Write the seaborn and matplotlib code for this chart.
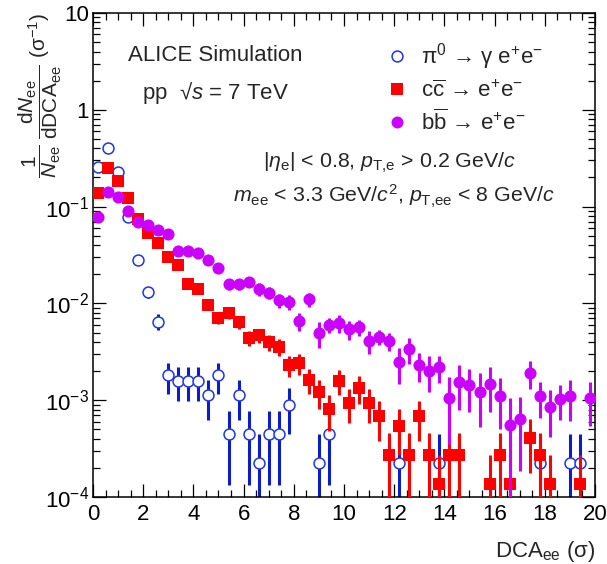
import numpy as np
import matplotlib
matplotlib.use("Agg")
import matplotlib.pyplot as plt
import matplotlib.ticker as mticker
from matplotlib.lines import Line2D
import seaborn as sns

# pi0 -> gamma e+e- (open blue circles)
pi0_x = [0.2, 0.6, 1.0, 1.4, 1.8, 2.2, 2.6, 3.0, 3.4, 3.8, 4.2, 4.6, 5.0, 5.4, 5.8,
         6.2, 6.6, 7.0, 7.4, 7.8, 9.0, 9.4, 12.2, 13.8, 17.8, 19.0, 19.4]
pi0_y = [0.256, 0.40, 0.226, 0.0776, 0.028, 0.013, 0.0065, 0.00181, 0.00158, 0.00158,
         0.00158, 0.00113, 0.00181, 0.000452, 0.00113, 0.000452, 0.000226, 0.000452,
         0.000452, 0.0009, 0.000226, 0.000452, 0.000226, 0.000226, 0.000226, 0.000226,
         0.000226]
pi0_err = [0.0076, 0.0095, 0.0071, 0.0042, 0.0025, 0.0017, 0.0012, 0.00064, 0.0006,
           0.0006, 0.0006, 0.000505, 0.00064, 0.00032, 0.000505, 0.00032, 0.000226,
           0.00032, 0.00032, 0.00045, 0.000226, 0.00032, 0.000226, 0.000226, 0.000226,
           0.000226, 0.000226]

# c cbar -> e+e- (red squares)
cc_x = [0.2, 0.6, 1.0, 1.4, 1.8, 2.2, 2.6, 3.0, 3.4, 3.8, 4.2, 4.6, 5.0, 5.4, 5.8,
        6.2, 6.6, 7.0, 7.4, 7.8, 8.2, 8.6, 9.0, 9.4, 9.8, 10.2, 10.6, 11.0, 11.4, 11.8,
        12.2, 12.6, 13.0, 13.4, 13.8, 14.2, 14.6, 15.8, 16.2, 16.6, 17.4, 17.8, 18.2, 19.4]
cc_y = [0.139, 0.252, 0.185, 0.123, 0.075, 0.0534, 0.042, 0.0304, 0.0249, 0.0159,
        0.0141, 0.0096, 0.00706, 0.0079, 0.00638, 0.00442, 0.00468, 0.00399, 0.00357,
        0.00231, 0.0024, 0.00162, 0.00122, 0.00081, 0.00159, 0.00094, 0.00135, 0.00094,
        0.00068, 0.00027, 0.00054, 0.00027, 0.00068, 0.00027, 0.000135, 0.00027, 0.00027,
        0.000135, 0.00027, 0.000135, 0.00041, 0.00027, 0.000135, 0.000135]
cc_err = [0.0043, 0.0058, 0.005, 0.0041, 0.0032, 0.0027, 0.0024, 0.002, 0.0018, 0.00147,
          0.00138, 0.00114, 0.00098, 0.00103, 0.00093, 0.00077, 0.00079, 0.00073, 0.00069,
          0.00056, 0.00057, 0.00047, 0.00041, 0.00033, 0.00046, 0.00036, 0.00043, 0.00036,
          0.0003, 0.00019, 0.00027, 0.00019, 0.0003, 0.00019, 0.000135, 0.00019, 0.00019,
          0.000135, 0.00019, 0.000135, 0.000235, 0.00019, 0.000135, 0.000135]

# b bbar -> e+e- (magenta circles)
bb_x = [0.2, 0.6, 1.0, 1.4, 1.8, 2.2, 2.6, 3.0, 3.4, 3.8, 4.2, 4.6, 5.0, 5.4, 5.8,
        6.2, 6.6, 7.0, 7.4, 7.8, 8.2, 8.6, 9.0, 9.4, 9.8, 10.2, 10.6, 11.0, 11.4, 11.8,
        12.2, 12.6, 13.0, 13.4, 13.8, 14.2, 14.6, 15.0, 15.4, 15.8, 16.2, 16.6, 17.0,
        17.4, 17.8, 18.2, 18.6, 19.0, 19.8]
bb_y = [0.0787, 0.1426, 0.1265, 0.0908, 0.0693, 0.0646, 0.0573, 0.0517, 0.035, 0.035,
        0.0329, 0.028, 0.0234, 0.0157, 0.0157, 0.0168, 0.014, 0.0129, 0.0108, 0.0104,
        0.0066, 0.011, 0.0049, 0.006, 0.0062, 0.0054, 0.0057, 0.0041, 0.0045, 0.0041,
        0.00246, 0.00336, 0.00231, 0.00202, 0.00219, 0.00105, 0.00155, 0.00144, 0.00122,
        0.00147, 0.0011, 0.000554, 0.000635, 0.00192, 0.0011, 0.000845, 0.00103, 0.00111,
        0.00105]
bb_err = [0.003, 0.005, 0.0045, 0.004, 0.0035, 0.0033, 0.0031, 0.003, 0.0025, 0.0025,
          0.0024, 0.0022, 0.002, 0.002, 0.002, 0.0021, 0.0021, 0.0018, 0.0018, 0.0018,
          0.00145, 0.0019, 0.00147, 0.001, 0.0013, 0.0012, 0.0011, 0.0011, 0.00075, 0.00085,
          0.001, 0.001, 0.00078, 0.00081, 0.0007, 0.0007, 0.00076, 0.00068, 0.00069,
          0.00071, 0.00059, 0.0005, 0.00045, 0.00061, 0.00044, 0.00043, 0.00041, 0.0005,
          0.00051]

blue_bar = "#0b1cc8"
blue_mk = "#1f35e6"
red = "#ff0000"
magenta = "#cc00ff"

sns.set_theme(style="ticks")
plt.rcParams["font.family"] = ["Liberation Sans", "DejaVu Sans"]
plt.rcParams["mathtext.fontset"] = "custom"
plt.rcParams["mathtext.rm"] = "Liberation Sans"
plt.rcParams["mathtext.it"] = "Liberation Sans:italic"
plt.rcParams["mathtext.sf"] = "Liberation Sans"
plt.rcParams["axes.unicode_minus"] = True

fig = plt.figure(figsize=(6.07, 5.64), dpi=100)
ax = fig.add_axes([93 / 607, 67 / 564, 502 / 607, 484 / 564])

ax.set_yscale("log")

# error bars first, markers on top
ax.errorbar(pi0_x, pi0_y, yerr=pi0_err, fmt="none", ecolor=blue_bar, elinewidth=2.2,
            capsize=0, zorder=2)
sns.scatterplot(x=pi0_x, y=pi0_y, marker="o", s=62, color="white", edgecolor=blue_mk,
                linewidth=1.1, ax=ax, zorder=3)
ax.errorbar(cc_x, cc_y, yerr=cc_err, fmt="none", ecolor=red, elinewidth=2.2,
            capsize=0, zorder=4)
sns.scatterplot(x=cc_x, y=cc_y, marker="s", s=72, color=red, linewidth=0, ax=ax, zorder=5)
ax.errorbar(bb_x, bb_y, yerr=bb_err, fmt="none", ecolor=magenta, elinewidth=2.2,
            capsize=0, zorder=6)
sns.scatterplot(x=bb_x, y=bb_y, marker="o", s=76, color=magenta, linewidth=0, ax=ax,
                zorder=7)

ax.set_xlim(0, 20)
ax.set_ylim(1e-4, 10)

ax.xaxis.set_major_locator(mticker.MultipleLocator(2))
ax.xaxis.set_minor_locator(mticker.MultipleLocator(0.5))
ax.yaxis.set_major_locator(mticker.LogLocator(base=10, numticks=10))
ax.yaxis.set_minor_locator(mticker.LogLocator(base=10, subs=np.arange(2, 10), numticks=20))
ax.yaxis.set_minor_formatter(mticker.NullFormatter())


def ylab(v, pos):
    e = int(round(np.log10(v)))
    if e == 0:
        return "1"
    if e == 1:
        return "10"
    return r"$\mathregular{10^{%d}}$" % e


ax.yaxis.set_major_formatter(mticker.FuncFormatter(ylab))

ax.tick_params(which="both", direction="in", top=True, right=True, colors="black",
               labelsize=16, width=0.9)
ax.tick_params(which="major", length=9.5)
ax.tick_params(which="minor", length=5)
ax.tick_params(axis="x", pad=5)
ax.tick_params(axis="y", pad=3)
for sp in ax.spines.values():
    sp.set_linewidth(1.1)
    sp.set_color("black")
    sp.set_visible(True)

ax.set_xlabel(r"DCA$_{\mathregular{ee}}$ (σ)", fontsize=16, loc="right", labelpad=10)
ax.set_ylabel(r"$\dfrac{1}{N_{\mathrm{ee}}}\;\dfrac{\mathrm{d}N_{\mathrm{ee}}}"
              r"{\mathrm{dDCA}_{\mathrm{ee}}}$ (σ$^{-1}$)",
              fontsize=15, loc="top")
ax.yaxis.set_label_coords(-0.058, 1.0)

ax.text(0.243, 0.913, "ALICE Simulation", transform=ax.transAxes, fontsize=16,
        ha="center", va="center")
ax.text(0.245, 0.835, r"pp  √$s$ = 7 TeV", transform=ax.transAxes, fontsize=16,
        ha="center", va="center")
ax.text(0.339, 0.69,
        r"|$\eta_{\mathrm{e}}$| < 0.8, $p_{\mathrm{T{,}e}}$ > 0.2 GeV/$c$",
        transform=ax.transAxes, fontsize=15.4, ha="left", va="center")
ax.text(0.279, 0.62,
        r"$m_{\mathrm{ee}}$ < 3.3 GeV/$c^{2}$, $p_{\mathrm{T{,}ee}}$ < 8 GeV/$c$",
        transform=ax.transAxes, fontsize=15.4, ha="left", va="center")

handles = [
    Line2D([], [], ls="none", marker="o", ms=7.8, mfc="white", mec=blue_mk, mew=1.1),
    Line2D([], [], ls="none", marker="s", ms=8.4, mfc=red, mec=red, mew=0),
    Line2D([], [], ls="none", marker="o", ms=8.6, mfc=magenta, mec=magenta, mew=0),
]
labels = [
    r"π$^{0}$ → γ e$^{+}$e$^{-}$",
    r"c$\overline{\mathrm{c}}$ → e$^{+}$e$^{-}$",
    r"b$\overline{\mathrm{b}}$ → e$^{+}$e$^{-}$",
]
ax.legend(handles, labels, loc="upper left", bbox_to_anchor=(0.565, 0.96),
          frameon=False, fontsize=16, handlelength=1.0, handletextpad=0.6,
          labelspacing=0.36, borderaxespad=0)

fig.savefig("out.png", dpi=100)
